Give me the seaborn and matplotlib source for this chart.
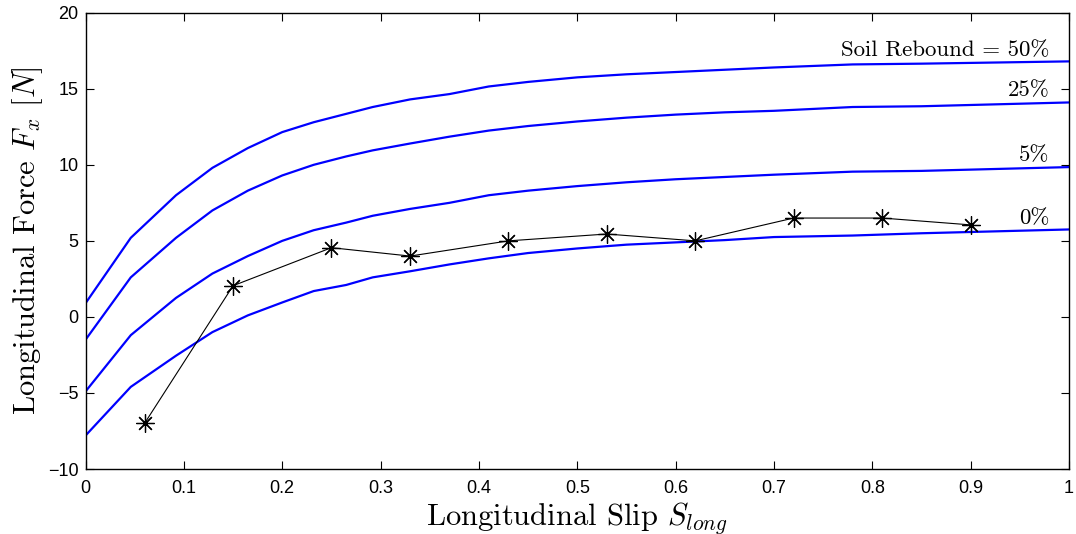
import matplotlib
matplotlib.use("Agg")
import matplotlib.pyplot as plt
import seaborn as sns
import pandas as pd

# ---- data ----
x_curve = [0, 0.046, 0.092, 0.129, 0.165, 0.2, 0.232, 0.265, 0.292, 0.33, 0.37,
           0.41, 0.45, 0.5, 0.55, 0.6, 0.65, 0.7, 0.78, 0.85, 1.0]
fx_50 = [0.9, 5.2, 8.0, 9.8, 11.1, 12.15, 12.8, 13.35, 13.8, 14.3, 14.65,
         15.15, 15.45, 15.75, 15.95, 16.1, 16.25, 16.4, 16.6, 16.65, 16.8]
fx_25 = [-1.5, 2.6, 5.2, 7.0, 8.3, 9.3, 10.0, 10.55, 10.95, 11.4, 11.85,
         12.25, 12.55, 12.85, 13.1, 13.3, 13.45, 13.55, 13.8, 13.85, 14.1]
fx_5 = [-4.9, -1.2, 1.25, 2.85, 4.0, 5.0, 5.7, 6.2, 6.65, 7.1, 7.5,
        8.0, 8.3, 8.6, 8.85, 9.05, 9.2, 9.35, 9.55, 9.6, 9.85]
fx_0 = [-7.8, -4.6, -2.55, -1.0, 0.1, 0.95, 1.7, 2.1, 2.6, 3.0, 3.45,
        3.85, 4.2, 4.5, 4.75, 4.9, 5.05, 5.25, 5.35, 5.5, 5.75]
rebound_labels = ["Soil Rebound = 50%", "25%", "5%", "0%"]
label_y = [17.55, 14.87, 10.64, 6.49]

meas_x = [0.06, 0.15, 0.25, 0.33, 0.43, 0.53, 0.62, 0.72, 0.81, 0.90]
meas_y = [-7.0, 2.05, 4.55, 4.0, 5.0, 5.45, 5.0, 6.5, 6.5, 6.05]

x_ticks = [0, 0.1, 0.2, 0.3, 0.4, 0.5, 0.6, 0.7, 0.8, 0.9, 1]
x_ticklabels = ["0", "0.1", "0.2", "0.3", "0.4", "0.5", "0.6", "0.7", "0.8", "0.9", "1"]
y_ticks = [-10, -5, 0, 5, 10, 15, 20]

# ---- build frame ----
curves = {"50": fx_50, "25": fx_25, "5": fx_5, "0": fx_0}
rows = []
for k, ys in curves.items():
    for xv, yv in zip(x_curve, ys):
        rows.append({"slip": xv, "force": yv, "rebound": k})
df = pd.DataFrame(rows)
meas = pd.DataFrame({"slip": meas_x, "force": meas_y})

sns.set_theme(style="white")
plt.rcParams["mathtext.fontset"] = "cm"

fig = plt.figure(figsize=(10.76, 5.34), dpi=100)
ax = fig.add_axes([0.0795, 0.1217, 0.914, 0.8545])

sns.lineplot(data=df, x="slip", y="force", units="rebound", estimator=None,
             color="#0000ff", linewidth=1.6, ax=ax, sort=False)
sns.lineplot(data=meas, x="slip", y="force", color="black", linewidth=0.8,
             marker=(8, 2, 0), markersize=13, markeredgecolor="black",
             markeredgewidth=0.9, ax=ax)

for txt, yv in zip(rebound_labels, label_y):
    ax.text(0.98, yv, txt, ha="right", va="center", fontsize=16.5,
            family="cmr10", color="black")

ax.set_xlim(0, 1)
ax.set_ylim(-10, 20)
ax.set_xticks(x_ticks)
ax.set_xticklabels(x_ticklabels)
ax.set_yticks(y_ticks)
for lab in ax.get_xticklabels() + ax.get_yticklabels():
    lab.set_family("Liberation Sans")
    lab.set_fontsize(13)
    lab.set_color("black")
ax.tick_params(direction="in", length=6, width=0.8, top=True, right=True,
               bottom=True, left=True, colors="black")
ax.tick_params(axis="x", pad=8)
ax.tick_params(axis="y", pad=5)
for sp in ax.spines.values():
    sp.set_visible(True)
    sp.set_color("black")
    sp.set_linewidth(1.0)

ax.set_xlabel(r"Longitudinal Slip $S_{long}$", fontsize=22, family="cmr10",
              color="black", labelpad=2)
ax.set_ylabel(r"Longitudinal Force $F_x$ $[N]$", fontsize=22, family="cmr10",
              color="black", labelpad=2)
ax.grid(False)

fig.savefig("out.png", dpi=100)
